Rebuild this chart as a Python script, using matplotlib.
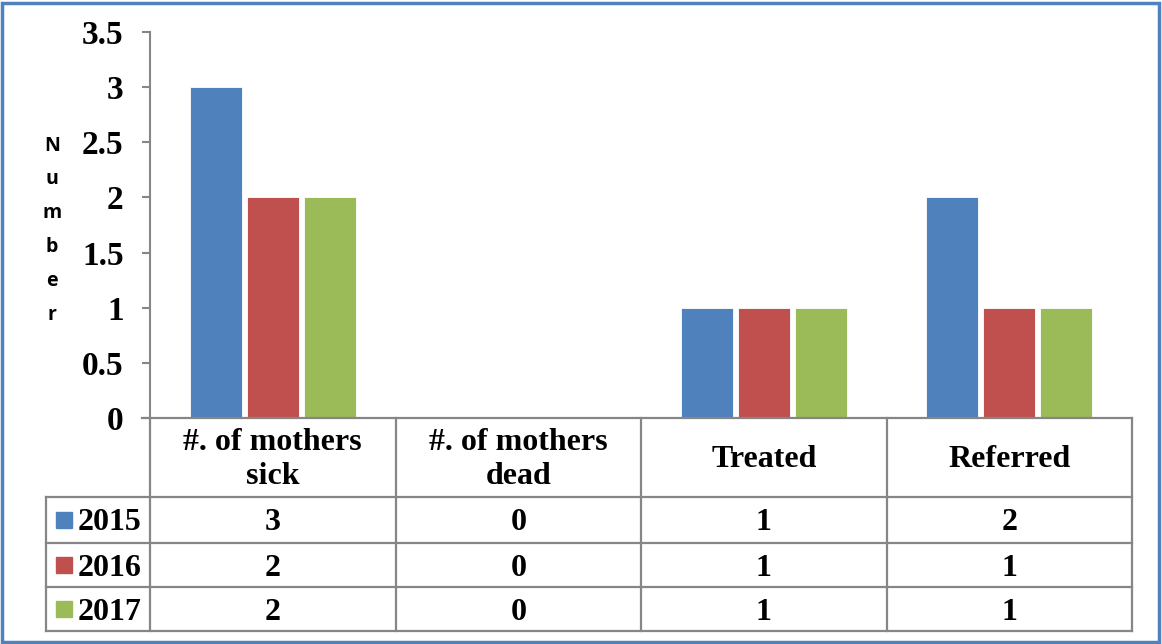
import matplotlib
matplotlib.use("Agg")
import matplotlib.pyplot as plt
from matplotlib.patches import Rectangle
from matplotlib.transforms import blended_transform_factory

categories = ["#. of mothers\nsick", "#. of mothers\ndead", "Treated", "Referred"]
years = ["2015", "2016", "2017"]
values_2015 = [3, 0, 1, 2]
values_2016 = [2, 0, 1, 1]
values_2017 = [2, 0, 1, 1]
series = [values_2015, values_2016, values_2017]
colors = ["#4F81BD", "#C0504D", "#9BBB59"]
yticks = [0, 0.5, 1, 1.5, 2, 2.5, 3, 3.5]

W, H = 1162, 644
fig = plt.figure(figsize=(W / 100, H / 100), dpi=100)
fig.patch.set_facecolor("white")

# plot area in pixels: left 150, right 1132, top 32, bottom 418
ax = fig.add_axes([150 / W, (H - 418) / H, 982 / W, 386 / H])
ax.set_xlim(-0.5, len(categories) - 0.5)
ax.set_ylim(0, 3.5)

serif = "Liberation Serif"
grid_col = "#868686"
FS = 23

offsets = [-0.232, 0.0, 0.232]
width = 0.212
x = list(range(len(categories)))
for vals, off, col in zip(series, offsets, colors):
    ax.bar([i + off for i in x], vals, width=width, color=col,
           edgecolor="white", linewidth=0.6, zorder=2)

ax.set_yticks(yticks)
ax.set_yticklabels([f"{v:g}" for v in yticks], fontsize=24,
                   fontfamily=serif, fontweight="bold")
ax.set_xticks([])
ax.tick_params(axis="y", direction="out", length=6, width=1.5,
               color=grid_col, pad=13)
for name in ["top", "right", "bottom"]:
    ax.spines[name].set_visible(False)
ax.spines["left"].set_color(grid_col)
ax.spines["left"].set_linewidth(1.5)

# vertical "Number" label, one letter per line
fig.text(52 / W, 1 - 230 / H, "N\nu\nm\nb\ne\nr", ha="center", va="center",
         fontsize=14, fontweight="bold", family="Open Sans", linespacing=1.92)

# data table under the axis (x in data units, y in axes fraction)
tr = blended_transform_factory(ax.transData, ax.transAxes)
px = 1 / 386.0
header_bot = -(497 - 418) * px
row_bounds = [header_bot, -(543 - 418) * px, -(587 - 418) * px, -(631 - 418) * px]
label_left = -0.5 - (150 - 46) / 245.5
line_kw = dict(color=grid_col, lw=1.6, transform=tr, clip_on=False,
               solid_capstyle="projecting")

# horizontal lines
ax.plot([-0.5 - 8 / 245.5, 3.5], [0, 0], **line_kw)
for yb in row_bounds:
    ax.plot([label_left, 3.5], [yb, yb], **line_kw)
# vertical lines
for xb in [c - 0.5 for c in range(len(categories) + 1)]:
    ax.plot([xb, xb], [0, row_bounds[-1]], **line_kw)
ax.plot([label_left, label_left], [header_bot, row_bounds[-1]], **line_kw)

# header text
for i, cat in enumerate(categories):
    ax.text(i, header_bot / 2 - 2 * px, cat, transform=tr, ha="center", va="center",
            fontsize=FS, fontfamily=serif, fontweight="bold", linespacing=1.25)

# rows: legend swatch, year, values
for r, (yr, vals, col) in enumerate(zip(years, series, colors)):
    ytop, ybot = row_bounds[r], row_bounds[r + 1]
    yc = (ytop + ybot) / 2
    sw = 16 / 245.5
    ax.add_patch(Rectangle((label_left + 10 / 245.5, yc - 8 * px), sw, 16 * px,
                           transform=tr, clip_on=False, color=col))
    yt = yc - 3 * px
    ax.text(label_left + 32 / 245.5, yt, yr, transform=tr, ha="left", va="center",
            fontsize=FS, fontfamily=serif, fontweight="bold")
    for i, v in enumerate(vals):
        ax.text(i, yt, f"{v}", transform=tr, ha="center", va="center",
                fontsize=FS, fontfamily=serif, fontweight="bold")

# blue frame around the chart
fig.add_artist(Rectangle((1.5 / W, 2.5 / H), (W - 5) / W, (H - 5) / H,
                         transform=fig.transFigure, fill=False,
                         edgecolor="#4F81BD", lw=2.5))

fig.savefig("out.png", dpi=100, facecolor="white")
